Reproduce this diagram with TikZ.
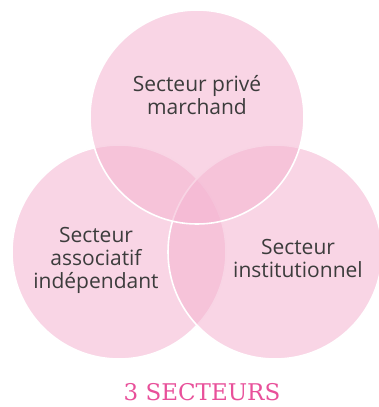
\documentclass[tikz,border=0pt]{standalone}
\usepackage{fontspec}
\newfontfamily\labelfont{Open Sans}
\newfontfamily\titlefont{DejaVu Serif}
\definecolor{petal}{RGB}{244,181,209}
\definecolor{labelgray}{HTML}{3C3C3C}
\definecolor{titlepink}{HTML}{E8509A}
\tikzset{
  sector/.style={fill=petal, fill opacity=0.57, draw=white, draw opacity=1, line width=1.6pt},
  sectorlabel/.style={align=center, text=labelgray, inner sep=0pt, anchor=base,
    font=\labelfont\fontsize{21}{23}\selectfont},
  titlelabel/.style={text=titlepink, inner sep=0pt, anchor=base,
    font=\titlefont\fontsize{23}{27}\selectfont}
}
\begin{document}
\begin{tikzpicture}[x=1pt,y=-1pt]
\useasboundingbox (0,0) rectangle (379,407);
\begin{scope}
\clip (0,0) rectangle (379,407);
\draw[sector] (119,252) circle[radius=107];
\draw[sector] (275,252) circle[radius=107];
\draw[sector] (197,117) circle[radius=107];
\end{scope}
\node[sectorlabel] (prive) at (197,114) {Secteur privé\\marchand};
\node[sectorlabel] (assoc) at (96,288) {Secteur\\associatif\\indépendant};
\node[sectorlabel] (inst) at (298,277) {Secteur\\institutionnel};
\node[titlelabel] (titre) at (202,400) {3 SECTEURS};
\end{tikzpicture}
\end{document}
